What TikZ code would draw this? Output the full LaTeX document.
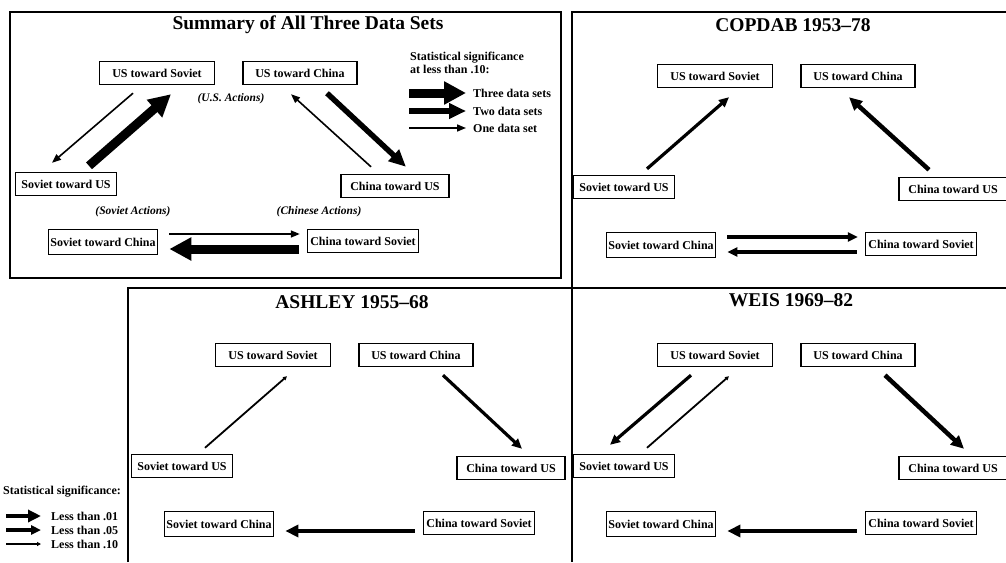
\documentclass[tikz,border=0pt]{standalone}
\usepackage{fontspec}
\setmainfont{Liberation Serif}
\usepackage{tikz}
\usetikzlibrary{arrows.meta,calc}
\tikzset{
  actor/.style={draw,line width=1.4pt,inner sep=2pt,minimum height=23pt,font=\bfseries\fontsize{12}{13}\selectfont},
  paneltitle/.style={font=\bfseries\fontsize{19.5}{22}\selectfont},
  acts/.style={font=\bfseries\itshape\fontsize{11.5}{13}\selectfont},
  legtext/.style={inner sep=1pt,font=\bfseries\fontsize{12}{13}\selectfont},
  frame/.style={line width=2.6pt},
  sigthree/.style={line width=9pt,-{Triangle[length=22pt,width=22pt]}},
  sigtwo/.style={line width=5.5pt,-{Triangle[length=17pt,width=15pt]}},
  sigone/.style={line width=1.6pt,-{Triangle[length=9pt,width=7pt]}},
  pone/.style={line width=4.5pt,-{Triangle[length=13pt,width=12pt]}},
  pfive/.style={line width=3.2pt,-{Triangle[length=10pt,width=9pt]}},
  pten/.style={line width=1.8pt,-{Triangle[length=4pt,width=4pt]}}
}

\begin{document}
\begin{tikzpicture}[x=1pt,y=-1pt]
  \useasboundingbox (0,0) rectangle (1006,562);
  \draw[frame] (10,12) rectangle (561,278);
  \draw[frame] (1006,12) -- (572,12) -- (572,562);
  \draw[frame] (128,562) -- (128,288) -- (1006,288);
  \node[paneltitle] (tA) at (308,25) {Summary of All Three Data Sets};
  \node[paneltitle] (tB) at (793,25) {COPDAB 1953--78};
  \node[paneltitle] (tC) at (352,302) {ASHLEY 1955--68};
  \node[paneltitle] (tD) at (791,300) {WEIS 1969--82};
  \foreach \p/\dx/\dy in {A/0/0,B/558/3,C/116/282,D/558/282} {
    \begin{scope}[shift={(\dx,\dy)}]
      \node[actor,minimum width=115pt] (usSov\p) at (157,73) {US toward Soviet};
      \node[actor,minimum width=114pt] (usChi\p) at (300,73) {US toward China};
      \node[actor,minimum width=101pt] (sovUs\p) at (66,184) {Soviet toward US};
      \node[actor,minimum width=108pt] (chiUs\p) at (395,186) {China toward US};
      \node[actor,minimum width=108pt,minimum height=25pt] (sovChi\p) at (103,242) {Soviet toward China};
      \node[actor,minimum width=111pt] (chiSov\p) at (363,241) {China toward Soviet};
    \end{scope}
  }
  \node[acts] (usAct) at (231,99) {(U.S. Actions)};
  \node[acts] (sovAct) at (133,212) {(Soviet Actions)};
  \node[acts] (chiAct) at (319,212) {(Chinese Actions)};
  % summary
  \draw[sigone] ($(usSovA.south)+(-24,8)$) -- ($(sovUsA.north)+(-14,-9)$);
  \draw[sigthree] ($(sovUsA.north)+(23,-6)$) -- ($(usSovA.south)+(14,9)$);
  \draw[sigone] ($(chiUsA.north)+(-24,-7)$) -- ($(usChiA.south)+(-9,9)$);
  \draw[sigtwo] ($(usChiA.south)+(27,8)$) -- ($(chiUsA.north)+(11,-7)$);
  \draw[sigone] ($(sovChiA.east)+(11,-8)$) -- ($(chiSovA.west)+(-7,-7)$);
  \draw[sigthree] ($(chiSovA.west)+(-8,8)$) -- ($(sovChiA.east)+(11,7)$);
  % copdab
  \draw[pfive] ($(sovUsB.north)+(23,-6)$) -- ($(usSovB.south)+(14,9)$);
  \draw[pone] ($(chiUsB.north)+(-24,-7)$) -- ($(usChiB.south)+(-9,9)$);
  \draw[pfive] ($(sovChiB.east)+(11,-8)$) -- ($(chiSovB.west)+(-7,-7)$);
  \draw[pfive] ($(chiSovB.west)+(-8,8)$) -- ($(sovChiB.east)+(11,7)$);
  % ashley
  \draw[pten] ($(sovUsC.north)+(23,-6)$) -- ($(usSovC.south)+(14,9)$);
  \draw[pfive] ($(usChiC.south)+(27,8)$) -- ($(chiUsC.north)+(11,-7)$);
  \draw[pone] ($(chiSovC.west)+(-8,8)$) -- ($(sovChiC.east)+(11,7)$);
  % weis
  \draw[pfive] ($(usSovD.south)+(-24,8)$) -- ($(sovUsD.north)+(-14,-9)$);
  \draw[pten] ($(sovUsD.north)+(23,-6)$) -- ($(usSovD.south)+(14,9)$);
  \draw[pone] ($(usChiD.south)+(27,8)$) -- ($(chiUsD.north)+(11,-7)$);
  \draw[pone] ($(chiSovD.west)+(-8,8)$) -- ($(sovChiD.east)+(11,7)$);
  % legends
  \node[legtext,anchor=north west,align=left] (sigHead) at (409,51) {Statistical significance\\at less than .10:};
  \node[legtext,anchor=west] (three) at (472,93) {Three data sets};
  \node[legtext,anchor=west] (two) at (472,111) {Two data sets};
  \node[legtext,anchor=west] (one) at (472,128) {One data set};
  \draw[sigthree] ($(three.west)+(-63,0)$) -- ($(three.west)+(-6,0)$);
  \draw[sigtwo] ($(two.west)+(-63,0)$) -- ($(two.west)+(-6,0)$);
  \draw[sigone] ($(one.west)+(-63,0)$) -- ($(one.west)+(-6,0)$);
  \node[legtext,anchor=west] (sigBot) at (2,492) {Statistical significance:};
  \node[legtext,anchor=west] (lt01) at (50,516) {Less than .01};
  \node[legtext,anchor=west] (lt05) at (50,530) {Less than .05};
  \node[legtext,anchor=west] (lt10) at (50,544) {Less than .10};
  \draw[pone] ($(lt01.west)+(-44,0)$) -- ($(lt01.west)+(-9,0)$);
  \draw[pfive] ($(lt05.west)+(-44,0)$) -- ($(lt05.west)+(-9,0)$);
  \draw[pten] ($(lt10.west)+(-44,0)$) -- ($(lt10.west)+(-9,0)$);
\end{tikzpicture}
\end{document}
